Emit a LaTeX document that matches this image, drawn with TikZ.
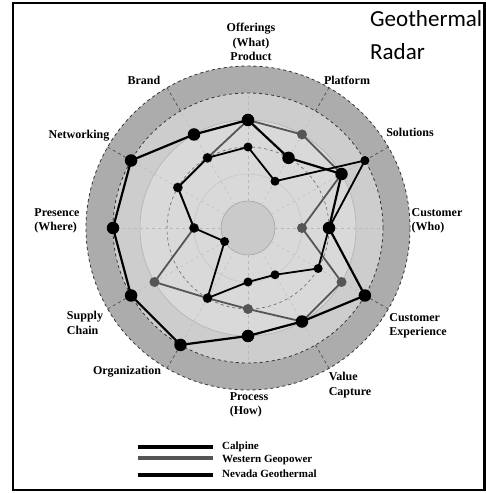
\documentclass[tikz,border=0pt]{standalone}
\usepackage{fontspec}
\setmainfont{Liberation Serif}
\newfontfamily\titlefont{Carlito}
\definecolor{bandgrey}{RGB}{172,172,172}
\definecolor{ringgrey}{RGB}{205,205,205}
\definecolor{innergrey}{RGB}{217,217,217}
\definecolor{coregrey}{RGB}{202,202,202}
\definecolor{westgrey}{RGB}{85,85,85}
\begin{document}
\begin{tikzpicture}[x=1pt, y=1pt,
    axislabel/.style={font=\bfseries\fontsize{12}{14.5}\selectfont, inner sep=0pt},
    keytext/.style={font=\bfseries\fontsize{11}{12}\selectfont, inner sep=0pt, anchor=west},
    calline/.style={line width=2.2pt, black},
    nevline/.style={line width=1.8pt, black},
    westline/.style={line width=1.8pt, westgrey},
    caldot/.style={circle, fill=black, inner sep=0pt, minimum size=12.5pt},
    nevdot/.style={circle, fill=black, inner sep=0pt, minimum size=9pt},
    westdot/.style={circle, fill=westgrey, inner sep=0pt, minimum size=10pt}]
    \useasboundingbox (0,0) rectangle (486,493);
    \fill[white] (0,0) rectangle (486,493);
    \draw[line width=2.5pt] (13,3) rectangle (484.5,490);
    % radar disc
    \begin{scope}[shift={(248,265)}]
        \fill[bandgrey] (0,0) circle (162);
        \fill[ringgrey] (0,0) circle (135);
        \fill[innergrey] (0,0) circle (108);
        \fill[coregrey] (0,0) circle (27);
        \draw[gray!70, line width=0.6pt] (0,0) circle (27);
        \draw[gray!45, line width=0.6pt] (0,0) circle (54);
        \draw[gray!80!black, dashed, line width=0.6pt] (0,0) circle (81);
        \draw[gray!60, line width=0.6pt] (0,0) circle (108);
        \draw[black!80, dashed, line width=0.8pt] (0,0) circle (135);
        \draw[black!80, dashed, line width=0.8pt] (0,0) circle (162);
        \foreach \k in {0,...,11}
            \draw[gray!55, dashed, line width=0.4pt] ({90-30*\k}:27) -- ({90-30*\k}:135);
        \foreach \a in {30,60,120,150,210,240,300,330}
            \draw[black!75, dashed, line width=0.6pt] (\a:135) -- (\a:162);
        % data points, clockwise from Product
        \foreach \v [count=\k from 0] in {4,4,4,2,4,4,3,3,4,2,3,3}
            \coordinate (west\k) at ({90-30*\k}:{27*\v});
        \foreach \v [count=\k from 0] in {4,3,4,3,5,4,4,5,5,5,5,4}
            \coordinate (cal\k) at ({90-30*\k}:{27*\v});
        \foreach \v [count=\k from 0] in {3,2,5,3,3,2,2,3,1,2,3,3}
            \coordinate (nev\k) at ({90-30*\k}:{27*\v});
    \end{scope}
    \draw[westline] (west0) \foreach \k in {1,...,11}{ -- (west\k)} -- cycle;
    \foreach \k in {0,...,11}
        \node[westdot] (westp\k) at (west\k) {};
    \draw[calline] (cal0) \foreach \k in {1,...,11}{ -- (cal\k)} -- cycle;
    \draw[nevline] (nev0) \foreach \k in {1,...,11}{ -- (nev\k)} -- cycle;
    \foreach \k in {0,...,11}
        \node[caldot] (calp\k) at (cal\k) {};
    \foreach \k in {0,...,11}
        \node[nevdot] (nevp\k) at (nev\k) {};
    % axis labels
    \node[axislabel, align=center] (product) at (251,451) {Offerings\\(What)\\Product};
    \node[axislabel] (platform) at (347,413) {Platform};
    \node[axislabel] (solutions) at (410,361) {Solutions};
    \node[axislabel, align=left] (customer) at (437,272) {Customer\\(Who)};
    \node[axislabel, align=left] (experience) at (418,167) {Customer\\Experience};
    \node[axislabel, align=left] (value) at (350,108) {Value\\Capture};
    \node[axislabel, align=left] (process) at (249,88) {Process\\(How)};
    \node[axislabel] (organization) at (127,121) {Organization};
    \node[axislabel, align=left] (supply) at (85,170) {Supply\\Chain};
    \node[axislabel, align=left] (presence) at (57,272) {Presence\\(Where)};
    \node[axislabel] (networking) at (79,357) {Networking};
    \node[axislabel] (brand) at (144,413) {Brand};
    % title
    \node[font=\titlefont\fontsize{23}{23}\selectfont, inner sep=0pt, anchor=base west] (title1) at (370,466) {Geothermal};
    \node[font=\titlefont\fontsize{23}{23}\selectfont, inner sep=0pt, anchor=base west] (title2) at (370,433) {Radar};
    % legend
    \node[keytext] (keycal) at (222,46) {Calpine};
    \node[keytext] (keywest) at (222,33) {Western Geopower};
    \node[keytext] (keynev) at (222,19) {Nevada Geothermal};
    \coordinate (keycalstart) at (138,46);
    \coordinate (keyweststart) at (138,35);
    \coordinate (keynevstart) at (138,18);
    \draw[line width=3.5pt, black] (keycalstart) -- ([xshift=-9pt]keycal.west |- keycalstart);
    \draw[line width=3.5pt, westgrey] (keyweststart) -- ([xshift=-9pt]keywest.west |- keyweststart);
    \draw[line width=3.5pt, black] (keynevstart) -- ([xshift=-9pt]keynev.west |- keynevstart);
\end{tikzpicture}
\end{document}
